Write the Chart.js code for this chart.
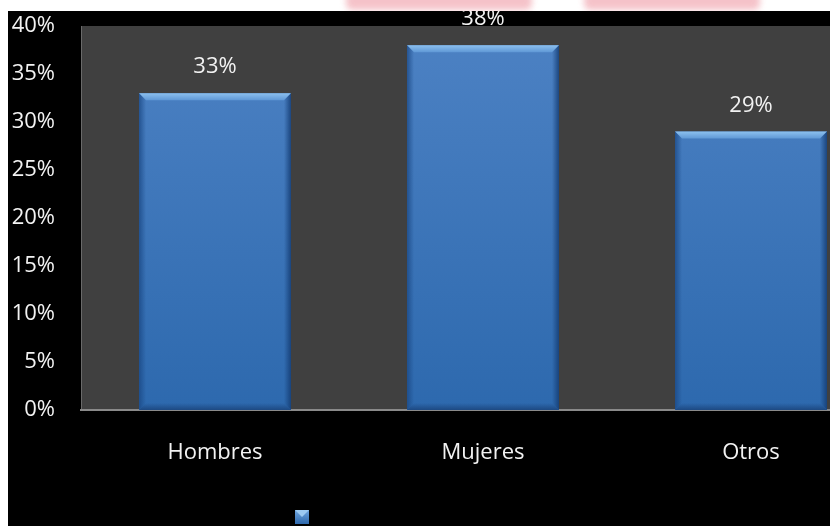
<!DOCTYPE html>
<html>
<head>
<meta charset="utf-8">
<script src="https://cdn.jsdelivr.net/npm/chart.js@4"></script>
<style>
    html, body {
        margin: 0;
        padding: 0;
        width: 830px;
        height: 526px;
        overflow: hidden;
        background: #ffffff;
    }
    .stamp {
        position: absolute;
        top: -8px;
        height: 18px;
        background: #f3b4bc;
        border-radius: 6px;
        filter: blur(3px);
        opacity: 0.8;
    }
    .panel {
        position: absolute;
        left: 8px;
        top: 11px;
        width: 880px;
        height: 515px;
        background: #000000;
    }
</style>
</head>
<body>
<div class="stamp" style="left:346px; width:186px;"></div>
<div class="stamp" style="left:584px; width:176px;"></div>
<div class="panel">
    <canvas id="genderChart" width="880" height="515"></canvas>
</div>

<script>
// RESPONDENT BREAKDOWN BY GENDER
const categories = ["Hombres", "Mujeres", "Otros"];
const percentages = [33, 38, 29];
const yTicks = [0, 5, 10, 15, 20, 25, 30, 35, 40];

const FONT = "'Open Sans', sans-serif";

// Gray plot background behind the bars
const plotBackground = {
    id: "plotBackground",
    beforeDraw(chart) {
        const { ctx, chartArea } = chart;
        ctx.save();
        ctx.fillStyle = "#404040";
        ctx.fillRect(chartArea.left, chartArea.top,
            chartArea.right - chartArea.left, chartArea.bottom - chartArea.top);
        ctx.restore();
    }
};

// Bevel edges on each bar + value labels above
const barBevel = {
    id: "barBevel",
    afterDatasetsDraw(chart) {
        const { ctx } = chart;
        const meta = chart.getDatasetMeta(0);
        meta.data.forEach((bar, i) => {
            const left = bar.x - bar.width / 2;
            const right = bar.x + bar.width / 2;
            const top = bar.y;
            const bottom = bar.base;
            const b = 7;

            ctx.save();
            // top bevel
            const topGrad = ctx.createLinearGradient(0, top, 0, top + b);
            topGrad.addColorStop(0, "#8cc0ee");
            topGrad.addColorStop(1, "#5f98d6");
            ctx.fillStyle = topGrad;
            ctx.beginPath();
            ctx.moveTo(left, top);
            ctx.lineTo(right, top);
            ctx.lineTo(right - b, top + b);
            ctx.lineTo(left + b, top + b);
            ctx.closePath();
            ctx.fill();

            // side shading
            const sideL = ctx.createLinearGradient(left, 0, left + b, 0);
            sideL.addColorStop(0, "rgba(25,70,130,0.75)");
            sideL.addColorStop(1, "rgba(25,70,130,0)");
            ctx.fillStyle = sideL;
            ctx.beginPath();
            ctx.moveTo(left, top);
            ctx.lineTo(left + b, top + b);
            ctx.lineTo(left + b, bottom - b);
            ctx.lineTo(left, bottom);
            ctx.closePath();
            ctx.fill();

            const sideR = ctx.createLinearGradient(right, 0, right - b, 0);
            sideR.addColorStop(0, "rgba(20,60,115,0.85)");
            sideR.addColorStop(1, "rgba(20,60,115,0)");
            ctx.fillStyle = sideR;
            ctx.beginPath();
            ctx.moveTo(right, top);
            ctx.lineTo(right - b, top + b);
            ctx.lineTo(right - b, bottom - b);
            ctx.lineTo(right, bottom);
            ctx.closePath();
            ctx.fill();

            // bottom edge
            const botGrad = ctx.createLinearGradient(0, bottom, 0, bottom - b);
            botGrad.addColorStop(0, "rgba(25,65,120,0.8)");
            botGrad.addColorStop(1, "rgba(25,65,120,0)");
            ctx.fillStyle = botGrad;
            ctx.beginPath();
            ctx.moveTo(left, bottom);
            ctx.lineTo(right, bottom);
            ctx.lineTo(right - b, bottom - b);
            ctx.lineTo(left + b, bottom - b);
            ctx.closePath();
            ctx.fill();

            // value label
            ctx.fillStyle = "#f2f2f2";
            ctx.font = "22px " + FONT;
            ctx.textAlign = "center";
            ctx.textBaseline = "middle";
            ctx.fillText(percentages[i] + "%", bar.x, top - 26);
            ctx.restore();
        });
    }
};

// Small series marker under the axis
const seriesKey = {
    id: "seriesKey",
    afterDraw(chart) {
        const { ctx } = chart;
        const x = 287, y = 499, s = 14;
        ctx.save();
        const g = ctx.createLinearGradient(0, y, 0, y + s);
        g.addColorStop(0, "#6fa6e0");
        g.addColorStop(1, "#2e69ad");
        ctx.fillStyle = g;
        ctx.fillRect(x, y, s, s);
        ctx.fillStyle = "#9ccaf2";
        ctx.beginPath();
        ctx.moveTo(x, y);
        ctx.lineTo(x + s, y);
        ctx.lineTo(x + s / 2, y + s / 2);
        ctx.closePath();
        ctx.fill();
        ctx.restore();
    }
};

const ctx = document.getElementById("genderChart");

new Chart(ctx, {
    type: "bar",
    data: {
        labels: categories,
        datasets: [{
            label: "",
            data: percentages,
            backgroundColor: (c) => {
                const area = c.chart.chartArea;
                if (!area) return "#3f77bb";
                const g = c.chart.ctx.createLinearGradient(0, area.top, 0, area.bottom);
                g.addColorStop(0, "#4d82c4");
                g.addColorStop(1, "#2d69ae");
                return g;
            },
            borderWidth: 0,
            categoryPercentage: 1,
            barPercentage: 0.567
        }]
    },
    options: {
        responsive: false,
        animation: false,
        layout: {
            padding: { top: 15, right: 3, left: 0, bottom: 0 }
        },
        plugins: {
            legend: { display: false },
            tooltip: { enabled: false }
        },
        scales: {
            y: {
                min: 0,
                max: 40,
                afterBuildTicks: (scale) => {
                    scale.ticks = yTicks.map(v => ({ value: v }));
                },
                afterFit: (scale) => {
                    scale.width = 73;
                    scale.paddingTop = 0;
                    scale.paddingBottom = 0;
                },
                ticks: {
                    color: "#f2f2f2",
                    padding: 26,
                    font: { family: FONT, size: 22 },
                    callback: (v) => v + "%"
                },
                grid: { display: false, drawTicks: false },
                border: { display: true, color: "#6a6a6a", width: 1 }
            },
            x: {
                afterFit: (scale) => {
                    scale.height = 116;
                    scale.paddingLeft = 0;
                    scale.paddingRight = 0;
                },
                ticks: {
                    color: "#f2f2f2",
                    padding: 30,
                    font: { family: FONT, size: 22 }
                },
                grid: { display: false, drawTicks: false },
                border: { display: true, color: "#8a8a8a", width: 2 }
            }
        }
    },
    plugins: [plotBackground, barBevel, seriesKey]
});
</script>
</body>
</html>
